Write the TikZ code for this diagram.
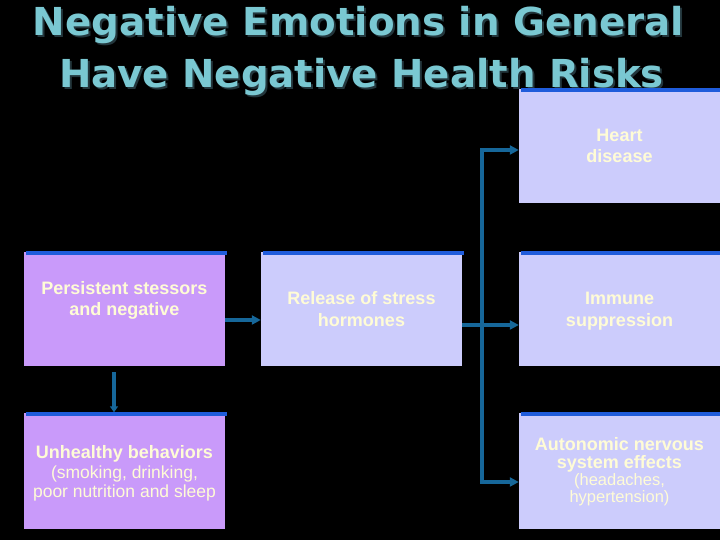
\documentclass[tikz,border=0pt]{standalone}
\usepackage{fontspec}
\usepackage{graphicx}
\setmainfont{Liberation Sans}
\newfontfamily\titlefont{DejaVu Sans}
\usetikzlibrary{arrows.meta}
\definecolor{purplebox}{HTML}{C99AFA}
\definecolor{lavbox}{HTML}{CCCCFC}
\definecolor{topblue}{HTML}{1F5CDB}
\definecolor{connblue}{HTML}{16679A}
\definecolor{boxtext}{HTML}{FFFCD6}
\definecolor{titlecyan}{HTML}{7AC8D2}
\definecolor{titleshadow}{HTML}{23363C}
\newcommand{\shadowtext}[2]{\makebox[0pt][l]{\hspace{2pt}\raisebox{-2pt}{\color{titleshadow}\scalebox{#1}[1]{#2}}}\scalebox{#1}[1]{#2}}
\begin{document}
\begin{tikzpicture}[x=1pt,y=1pt,
  box/.style={draw=none, minimum width=201pt, minimum height=114pt, inner sep=0pt, anchor=center},
  purplefill/.style={fill=purplebox},
  lavfill/.style={fill=lavbox},
  boxlabel/.style={text=boxtext, align=center, font=\bfseries\fontsize{18}{21.5}\selectfont, inner sep=0pt},
  conn/.style={draw=connblue, line width=3.5pt, -{Triangle[length=9pt,width=9pt]}},
  topbar/.style={draw=topblue, line width=3.5pt},
  titletext/.style={font=\titlefont\bfseries\fontsize{38.5}{46}\selectfont, anchor=base, inner sep=0pt, text=titlecyan}
]
\fill[black] (0,0) rectangle (720,540);
\useasboundingbox (0,0) rectangle (720,540);

% title (drawn first: the boxes cover it)
\node[titletext] (t1) at (358.5,504) {\shadowtext{1.008}{Negative Emotions in General}};
\node[titletext] (t2) at (361.5,452) {\shadowtext{1.005}{Have Negative Health Risks}};

% boxes
\node[box, purplefill] (persist) at (124.5,231) {};
\node[box, lavfill] (release) at (361.5,231) {};
\node[box, lavfill] (immune) at (619.5,231) {};
\node[box, lavfill] (heart) at (619.5,394) {};
\node[box, purplefill, minimum height=116pt] (unhealthy) at (124.5,69) {};
\node[box, lavfill, minimum height=116pt] (autonomic) at (619.5,69) {};

% connectors
\coordinate (btop) at (482,390);
\coordinate (bbot) at (482,58);
\draw[conn] ([yshift=-11pt]persist.east) -- ([yshift=-11pt]release.west);
\draw[conn, -{Triangle[length=6pt,width=8pt]}] ([xshift=-10.5pt,yshift=-6pt]persist.south) -- ([xshift=-10.5pt,yshift=0.5pt]unhealthy.north);
\draw[conn] ([yshift=-16pt]release.east) -- ([yshift=-16pt]immune.west);
\draw[conn, {Triangle[length=9pt,width=9pt]}-{Triangle[length=9pt,width=9pt]}] (heart.west |- btop) -- (btop) -- (bbot) -- (autonomic.west |- bbot);

% top bars
\foreach \b in {persist,release,immune,heart,unhealthy,autonomic}{
  \draw[topbar] ([xshift=2pt,yshift=-1pt]\b.north west) -- ([xshift=2pt,yshift=-1pt]\b.north east);
}

% labels
\node[boxlabel] (heartT) at (heart.center) {Heart\\disease};
\node[boxlabel] (persistT) at ([yshift=8.6pt]persist.center) {Persistent stessors\\and negative};
\node[boxlabel] (releaseT) at (release.center) {Release of stress\\hormones};
\node[boxlabel] (immuneT) at ([yshift=-2.4pt]immune.center) {Immune\\suppression};
\node[boxlabel] (unhealthyT) at ([yshift=-2.6pt]unhealthy.center) {Unhealthy behaviors\\[-1.5pt]{\mdseries\fontsize{17.5}{19}\selectfont (smoking, drinking,}\\[-2.8pt]{\mdseries\fontsize{17.5}{19}\selectfont poor nutrition and sleep}};
\node[boxlabel, font=\bfseries\fontsize{18}{17.3}\selectfont] (autonomicT) at ([yshift=-0.9pt]autonomic.center) {Autonomic nervous\\system effects\\{\mdseries\fontsize{16.5}{17.3}\selectfont (headaches,}\\{\mdseries\fontsize{16.5}{17.3}\selectfont hypertension)}};
\end{tikzpicture}
\end{document}
